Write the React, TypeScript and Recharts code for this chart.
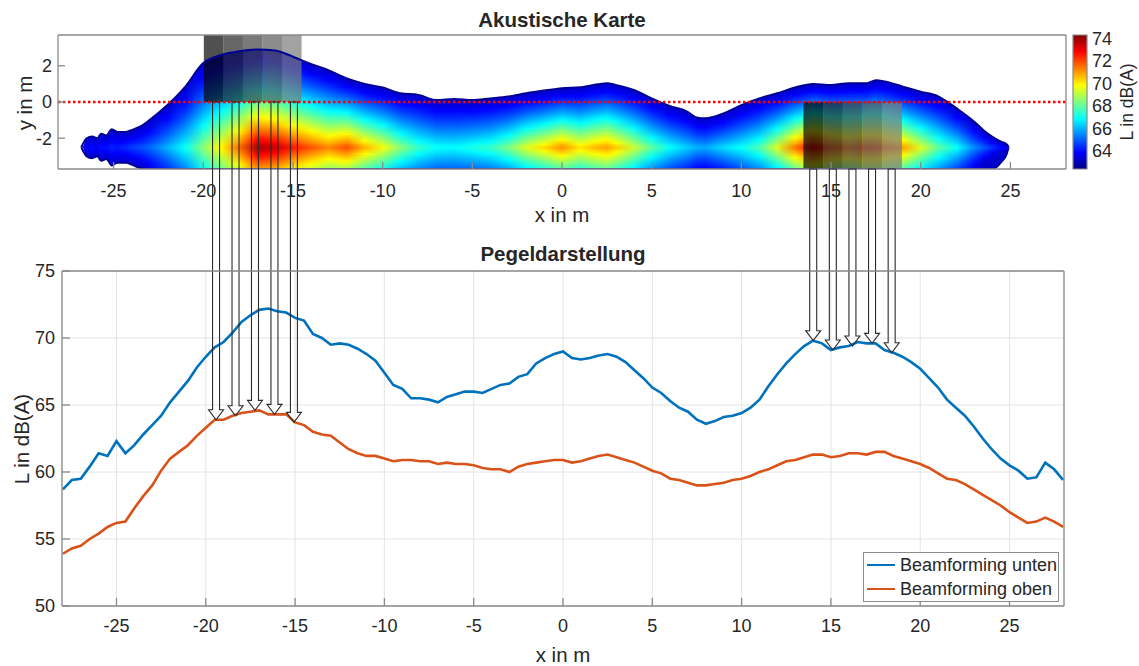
import React from 'react';
import {
  ComposedChart, Line, Area, XAxis, YAxis, CartesianGrid, ReferenceArea, ReferenceLine, Legend,
} from 'recharts';

const FONT = '"Liberation Sans", Arial, Helvetica, sans-serif';
const TEXT = '#262626';
const FRAME = '#8a8a8a';
const BLUE = '#0072BD';
const ORANGE = '#D95319';

// Pegeldarstellung: level along the road, x in m
const levelX = [
  -28, -27.5, -27, -26.5, -26, -25.5, -25, -24.5, -24, -23.5,
  -23, -22.5, -22, -21.5, -21, -20.5, -20, -19.5, -19, -18.5,
  -18, -17.5, -17, -16.5, -16, -15.5, -15, -14.5, -14, -13.5,
  -13, -12.5, -12, -11.5, -11, -10.5, -10, -9.5, -9, -8.5,
  -8, -7.5, -7, -6.5, -6, -5.5, -5, -4.5, -4, -3.5,
  -3, -2.5, -2, -1.5, -1, -0.5, 0, 0.5, 1, 1.5,
  2, 2.5, 3, 3.5, 4, 4.5, 5, 5.5, 6, 6.5,
  7, 7.5, 8, 8.5, 9, 9.5, 10, 10.5, 11, 11.5,
  12, 12.5, 13, 13.5, 14, 14.5, 15, 15.5, 16, 16.5,
  17, 17.5, 18, 18.5, 19, 19.5, 20, 20.5, 21, 21.5,
  22, 22.5, 23, 23.5, 24, 24.5, 25, 25.5, 26, 26.5,
  27, 27.5, 28,
];
const levelUnten = [
  58.7, 59.4, 59.5, 60.4, 61.4, 61.2, 62.3, 61.4, 62.0, 62.8,
  63.5, 64.2, 65.2, 66.0, 66.8, 67.8, 68.6, 69.3, 69.7, 70.4,
  71.2, 71.7, 72.1, 72.2, 72.0, 71.9, 71.5, 71.3, 70.3, 70.0,
  69.5, 69.6, 69.5, 69.2, 68.8, 68.3, 67.4, 66.5, 66.2, 65.5,
  65.5, 65.4, 65.2, 65.6, 65.8, 66.0, 66.0, 65.9, 66.2, 66.5,
  66.6, 67.1, 67.3, 68.1, 68.5, 68.8, 69.0, 68.5, 68.4, 68.5,
  68.7, 68.8, 68.6, 68.2, 67.6, 67.0, 66.3, 65.9, 65.3, 64.8,
  64.5, 63.9, 63.6, 63.8, 64.1, 64.2, 64.4, 64.8, 65.4, 66.4,
  67.3, 68.1, 68.8, 69.4, 69.8, 69.6, 69.1, 69.3, 69.4, 69.7,
  69.6, 69.6, 69.1, 68.9, 68.6, 68.2, 67.7, 67.0, 66.3, 65.4,
  64.8, 64.2, 63.4, 62.5, 61.7, 61.0, 60.5, 60.1, 59.5, 59.6,
  60.7, 60.2, 59.4,
];
const levelOben = [
  53.9, 54.3, 54.5, 55.0, 55.4, 55.9, 56.2, 56.3, 57.3, 58.2,
  59.0, 60.1, 61.0, 61.5, 62.0, 62.7, 63.3, 63.9, 63.9, 64.2,
  64.4, 64.5, 64.6, 64.3, 64.3, 64.3, 63.7, 63.5, 63.0, 62.8,
  62.7, 62.2, 61.7, 61.4, 61.2, 61.2, 61.0, 60.8, 60.9, 60.9,
  60.8, 60.8, 60.6, 60.7, 60.6, 60.6, 60.5, 60.3, 60.2, 60.2,
  60.0, 60.4, 60.6, 60.7, 60.8, 60.9, 60.9, 60.7, 60.8, 61.0,
  61.2, 61.3, 61.1, 60.9, 60.7, 60.4, 60.1, 59.9, 59.5, 59.4,
  59.2, 59.0, 59.0, 59.1, 59.2, 59.4, 59.5, 59.7, 60.0, 60.2,
  60.5, 60.8, 60.9, 61.1, 61.3, 61.3, 61.1, 61.2, 61.4, 61.4,
  61.3, 61.5, 61.5, 61.2, 61.0, 60.8, 60.6, 60.3, 59.9, 59.5,
  59.4, 59.1, 58.7, 58.3, 57.9, 57.5, 57.0, 56.6, 56.2, 56.3,
  56.6, 56.3, 55.9,
];
const xTicks = [-25, -20, -15, -10, -5, 0, 5, 10, 15, 20, 25];
const levelTicks = [50, 55, 60, 65, 70, 75];

// Akustische Karte: level along y = -2.5 m and the outline of the coloured area
const mapX = [
  -28.1, -27, -26.8, -26.5, -26.2, -25.9, -25.7, -25.4, -25.1, -24.8,
  -24.3, -24, -23.5, -23, -22, -21, -20, -19.5, -19, -18,
  -17, -16, -15, -14, -13, -12, -11, -10, -9, -8,
  -7, -6, -5, -4, -3, -2, -1, 0, 1, 2,
  2.5, 3, 4, 5, 6, 7, 7.5, 8, 9, 10,
  11, 12, 13, 14, 15, 16, 17, 17.5, 18, 19,
  20, 21, 22, 23, 23.5, 24, 24.5, 24.8, 24.9, 26,
  28.1,
];
const mapLevel = [
  62.4, 62.4, 63.4, 63.8, 64.0, 63.8, 64.1, 64.0, 64.3, 64.2,
  64.4, 64.6, 64.8, 65.1, 66.0, 67.0, 68.5, 69.3, 70.0, 71.6,
  73.8, 73.5, 72.6, 71.9, 71.3, 72.0, 70.8, 69.8, 68.5, 67.5,
  67.0, 66.9, 67.2, 67.5, 68.3, 69.5, 70.3, 71.2, 70.2, 70.8,
  71.0, 70.5, 69.3, 68.0, 67.0, 66.3, 66.0, 65.9, 66.5, 67.0,
  67.8, 69.5, 71.5, 73.0, 72.0, 71.5, 72.0, 71.8, 71.5, 71.0,
  69.5, 68.0, 67.0, 65.5, 65.0, 64.5, 64.0, 63.8, 63.4, 62.4,
  62.4,
];
const mapTop = [
  -2.6, -2.6, -2.6, -2.0, -1.9, -2.0, -1.75, -1.85, -1.5, -1.65,
  -1.65, -1.55, -1.35, -1.0, -0.17, 0.85, 2.15, 2.43, 2.6, 2.8,
  2.9, 2.85, 2.5, 2.1, 1.75, 1.3, 1.0, 0.8, 0.48, 0.39,
  0.11, 0.17, 0.11, 0.2, 0.3, 0.48, 0.63, 0.76, 0.81, 0.98,
  1.04, 0.94, 0.67, 0.2, -0.22, -0.54, -0.85, -0.9, -0.63, -0.17,
  0.2, 0.48, 0.8, 1.0, 0.94, 1.04, 1.04, 1.2, 1.13, 0.85,
  0.57, 0.3, -0.35, -1.1, -1.56, -1.93, -2.2, -2.35, -2.65, -2.6,
  -2.6,
];
const mapBottom = [
  -2.4, -2.4, -2.4, -3.0, -3.1, -3.0, -3.25, -3.15, -3.5, -3.35,
  -3.35, -3.45, -3.65, -3.7, -3.7, -3.7, -3.7, -3.7, -3.7, -3.7,
  -3.7, -3.7, -3.7, -3.7, -3.7, -3.7, -3.7, -3.7, -3.7, -3.7,
  -3.7, -3.7, -3.7, -3.7, -3.7, -3.7, -3.7, -3.7, -3.7, -3.7,
  -3.7, -3.7, -3.7, -3.7, -3.7, -3.7, -3.7, -3.7, -3.7, -3.7,
  -3.7, -3.7, -3.7, -3.7, -3.7, -3.7, -3.7, -3.7, -3.7, -3.7,
  -3.7, -3.7, -3.7, -3.7, -3.7, -3.7, -3.3, -2.85, -2.45, -2.4,
  -2.4,
];
const mapTicksY = [-2, 0, 2];
const colorbarTicks = [64, 66, 68, 70, 72, 74];

// grey bands marking the sampled sections
const bandLeft = [-19.97, -14.52];
const bandRight = [13.46, 18.95];
const stripShades = ['#050505', '#272727', '#424242', '#5b5b5b', '#7b7b7b'];

// layout
const W = 1139;
const H = 666;
const MAP_H = 230;
const TOP = { left: 58, right: 1066, top: 35, bottom: 169 };
const BOT = { left: 62, right: 1064, top: 271, bottom: 606 };
const MAP_XD: [number, number] = [-28.1, 28.1];
const MAP_YD: [number, number] = [-3.7, 3.7];
const LEVEL_XD: [number, number] = [-28.05, 28.05];
const LEVEL_YD: [number, number] = [50, 75];
const CB: [number, number] = [62.4, 74.3];
const MAP_CENTRE_Y = -2.5;
const MAP_EDGE_LEVEL = 63.3; // level at the outline of the coloured area
const EDGE_COLOR = 'rgb(0,0,150)';

const tickStyle = { fill: TEXT, fontSize: 18, fontFamily: FONT };

const jet = (v: number) => {
  const t = Math.max(0, Math.min(1, (v - CB[0]) / (CB[1] - CB[0])));
  const c = (a: number) => Math.round(255 * Math.max(0, Math.min(1, a)));
  const r = c(Math.min(4 * t - 1.5, -4 * t + 4.5));
  const g = c(Math.min(4 * t - 0.5, -4 * t + 3.5));
  const b = c(Math.min(4 * t + 0.5, -4 * t + 2.5));
  return `rgb(${r},${g},${b})`;
};

// level at height y for map column i (falls off from the source line to the outline)
const fieldAt = (i: number, y: number) => {
  const ext = Math.max(mapTop[i] - MAP_CENTRE_Y, 0.05);
  const d = Math.min(Math.abs(y - MAP_CENTRE_Y) / ext, 1);
  const peak = Math.max(mapLevel[i], MAP_EDGE_LEVEL);
  return MAP_EDGE_LEVEL + (peak - MAP_EDGE_LEVEL) * Math.pow(1 - d, 1.25);
};

const ROW_STEP = 0.1;
const rowYs: number[] = [];
for (let y = MAP_YD[0] + ROW_STEP / 2; y < 3.05; y += ROW_STEP) rowYs.push(y);

const strips = (band: number[]) => {
  const w = (band[1] - band[0]) / stripShades.length;
  return stripShades.map((_, k) => [band[0] + k * w, band[0] + (k + 1) * w]);
};

// convert a map height into the level axis so the arrows can run from one panel into the other
const mapPxPerM = (TOP.bottom - TOP.top) / (MAP_YD[1] - MAP_YD[0]);
const dbPerPx = (LEVEL_YD[1] - LEVEL_YD[0]) / (BOT.bottom - BOT.top);
const mapYToLevel = (ym: number) => {
  const py = TOP.top + (MAP_YD[1] - ym) * mapPxPerM;
  return LEVEL_YD[1] + (BOT.top - py) * dbPerPx;
};
const nearest = (arr: number[], x: number) => {
  let best = 0;
  levelX.forEach((v, i) => { if (Math.abs(v - x) < Math.abs(levelX[best] - x)) best = i; });
  return arr[best];
};
const arrows = [
  ...strips(bandLeft).map(([a, b]) => {
    const x = (a + b) / 2;
    return { x, from: mapYToLevel(0), to: nearest(levelOben, x) };
  }),
  ...strips(bandRight).map(([a, b]) => {
    const x = (a + b) / 2;
    return { x, from: mapYToLevel(MAP_YD[0]), to: nearest(levelUnten, x) };
  }),
];

const ArrowShape = (props: any) => {
  const { x1, y1, x2, y2 } = props;
  const hw = 3.5;
  const headW = 7.5;
  const yh = y2 - 10;
  const d = `M${x1 - hw},${y1} V${yh} H${x1 - headW} L${x2},${y2} L${x1 + headW},${yh} H${x1 + hw} V${y1} Z`;
  return <path d={d} fill="none" stroke="#2b2b2b" strokeWidth={1.1} />;
};

const legendItems = [
  { name: 'Beamforming unten', color: BLUE },
  { name: 'Beamforming oben', color: ORANGE },
];

function LegendBox() {
  return (
    <div style={{
      boxSizing: 'border-box', width: 196, height: 50, border: '1px solid #8c8c8c', background: '#fff',
      fontFamily: FONT, fontSize: 18, color: TEXT,
    }}>
      {legendItems.map((it) => (
        <div key={it.name} style={{ display: 'flex', alignItems: 'center', height: 24, whiteSpace: 'nowrap' }}>
          <span style={{ display: 'inline-block', width: 28, borderTop: `2.5px solid ${it.color}`, marginLeft: 3, marginRight: 5 }} />
          <span>{it.name}</span>
        </div>
      ))}
    </div>
  );
}

const labels = [
  { text: 'Akustische Karte', x: 562, y: 20, size: 20.5, bold: true },
  { text: 'x in m', x: 562, y: 215, size: 20.5 },
  { text: 'y in m', x: 25, y: 103, size: 20.5, rotate: true },
  { text: 'L in dB(A)', x: 1128, y: 102, size: 17.5, rotate: true },
  { text: 'Pegeldarstellung', x: 563, y: 254, size: 20.5, bold: true },
  { text: 'x in m', x: 563, y: 655, size: 20.5 },
  { text: 'L in dB(A)', x: 22, y: 439, size: 20.5, rotate: true },
];

// axes are 1px thick boxes (Recharts skips axes of zero size), margins are reduced by that pixel
const AX = 1;

function MapChart() {
  const last = mapX.length - 1;
  const isClosed = (i: number) => i < 0 || i > last || mapTop[i] <= mapBottom[i];
  const mapData = mapX.map((x, i) => {
    const open = !isClosed(i);
    const touches = open || !isClosed(i - 1) || !isClosed(i + 1);
    return {
      x,
      above: [mapTop[i], MAP_YD[1]],
      below: [MAP_YD[0], mapBottom[i]],
      edgeTop: touches ? (open ? mapTop[i] : MAP_CENTRE_Y) : null,
      edgeBottom: touches ? (open ? mapBottom[i] : MAP_CENTRE_Y) : null,
    };
  });
  return (
    <ComposedChart
      width={W}
      height={MAP_H}
      data={mapData}
      margin={{ top: TOP.top - AX, left: TOP.left - AX, right: W - TOP.right - AX, bottom: MAP_H - TOP.bottom - AX }}
    >
      <defs>
        {rowYs.map((y, r) => (
          <linearGradient key={r} id={`mapRow${r}`} x1="0" y1="0" x2="1" y2="0">
            {mapX.map((x, i) => (
              <stop key={i} offset={(x - MAP_XD[0]) / (MAP_XD[1] - MAP_XD[0])} stopColor={jet(fieldAt(i, y))} />
            ))}
          </linearGradient>
        ))}
      </defs>
      {rowYs.map((y, r) => (
        <ReferenceArea
          key={r}
          x1={MAP_XD[0]}
          x2={MAP_XD[1]}
          y1={y - 0.07}
          y2={y + 0.07}
          fill={`url(#mapRow${r})`}
          fillOpacity={1}
          stroke="none"
          ifOverflow="hidden"
        />
      ))}
      <Area dataKey="above" type="monotoneX" fill="#fff" fillOpacity={1} stroke="none" dot={false} activeDot={false} isAnimationActive={false} />
      <Area dataKey="below" type="monotoneX" fill="#fff" fillOpacity={1} stroke="none" dot={false} activeDot={false} isAnimationActive={false} />
      <Line dataKey="edgeTop" type="monotoneX" stroke={EDGE_COLOR} strokeWidth={2} dot={false} activeDot={false} isAnimationActive={false} />
      <Line dataKey="edgeBottom" type="monotoneX" stroke={EDGE_COLOR} strokeWidth={2} dot={false} activeDot={false} isAnimationActive={false} />
      {strips(bandLeft).map(([a, b], k) => (
        <ReferenceArea key={`l${k}`} x1={a} x2={b} y1={0} y2={MAP_YD[1]} fill={stripShades[k]} fillOpacity={0.7} stroke="none" ifOverflow="visible" />
      ))}
      {strips(bandRight).map(([a, b], k) => (
        <ReferenceArea key={`r${k}`} x1={a} x2={b} y1={MAP_YD[0]} y2={0} fill={stripShades[k]} fillOpacity={0.7} stroke="none" ifOverflow="visible" />
      ))}
      <ReferenceLine y={0} stroke="#ff0000" strokeWidth={2.6} strokeDasharray="2.5 2.5" />
      <XAxis dataKey="x" type="number" domain={MAP_XD} ticks={xTicks} interval={0} allowDataOverflow height={AX}
        tickSize={-7} tickMargin={22} tick={tickStyle} stroke={FRAME} strokeWidth={1.3} />
      <XAxis xAxisId="top" orientation="top" type="number" domain={MAP_XD} ticks={xTicks} interval={0} allowDataOverflow height={AX}
        tickSize={-7} tick={false} stroke={FRAME} strokeWidth={1.3} />
      <YAxis type="number" domain={MAP_YD} ticks={mapTicksY} interval={0} allowDataOverflow width={AX}
        tickSize={-7} tickMargin={13} tick={tickStyle} stroke={FRAME} strokeWidth={1.3} />
      <YAxis yAxisId="right" orientation="right" type="number" domain={MAP_YD} ticks={mapTicksY} interval={0} allowDataOverflow width={AX}
        tickSize={-7} tick={false} stroke={FRAME} strokeWidth={1.3} />
    </ComposedChart>
  );
}

function ColorBar() {
  const cbStops = [0, 0.125, 0.375, 0.625, 0.875, 1];
  return (
    <ComposedChart
      width={99}
      height={MAP_H}
      data={[{ x: 0 }, { x: 1 }]}
      margin={{ top: TOP.top, left: 33, right: 52 - AX, bottom: MAP_H - TOP.bottom }}
    >
      <defs>
        <linearGradient id="jetV" x1="0" y1="1" x2="0" y2="0">
          {cbStops.map((t) => (
            <stop key={t} offset={t} stopColor={jet(CB[0] + t * (CB[1] - CB[0]))} />
          ))}
        </linearGradient>
      </defs>
      <XAxis dataKey="x" type="number" domain={[0, 1]} hide />
      <ReferenceArea x1={0} x2={1} y1={CB[0]} y2={CB[1]} fill="url(#jetV)" fillOpacity={1} stroke={FRAME} strokeWidth={1.2} ifOverflow="visible" />
      <YAxis orientation="right" type="number" domain={CB} ticks={colorbarTicks} interval={0} allowDataOverflow width={AX}
        tickSize={0} tickMargin={5} axisLine={false} tickLine={false} tick={tickStyle} />
    </ComposedChart>
  );
}

function LevelChart() {
  const data = levelX.map((x, i) => ({ x, unten: levelUnten[i], oben: levelOben[i] }));
  return (
    <ComposedChart
      width={W}
      height={H}
      data={data}
      margin={{ top: BOT.top - AX, left: BOT.left - AX, right: W - BOT.right - AX, bottom: H - BOT.bottom - AX }}
    >
      <CartesianGrid stroke="#e4e4e4" />
      <Line dataKey="unten" name="Beamforming unten" type="linear" stroke={BLUE} strokeWidth={2.6} dot={false} isAnimationActive={false} />
      <Line dataKey="oben" name="Beamforming oben" type="linear" stroke={ORANGE} strokeWidth={2.6} dot={false} isAnimationActive={false} />
      {arrows.map((a, k) => (
        <ReferenceLine
          key={k}
          segment={[{ x: a.x, y: a.from }, { x: a.x, y: a.to }]}
          ifOverflow="visible"
          shape={ArrowShape}
        />
      ))}
      <XAxis dataKey="x" type="number" domain={LEVEL_XD} ticks={xTicks} interval={0} allowDataOverflow height={AX}
        tickSize={-8} tickMargin={21} tick={tickStyle} stroke={FRAME} strokeWidth={1.3} />
      <XAxis xAxisId="top" orientation="top" type="number" domain={LEVEL_XD} ticks={xTicks} interval={0} allowDataOverflow height={AX}
        tickSize={-8} tick={false} stroke={FRAME} strokeWidth={1.3} />
      <YAxis type="number" domain={LEVEL_YD} ticks={levelTicks} interval={0} allowDataOverflow width={AX}
        tickSize={-8} tickMargin={15} tick={tickStyle} stroke={FRAME} strokeWidth={1.3} />
      <YAxis yAxisId="right" orientation="right" type="number" domain={LEVEL_YD} ticks={levelTicks} interval={0} allowDataOverflow width={AX}
        tickSize={-8} tick={false} stroke={FRAME} strokeWidth={1.3} />
      <Legend
        layout="vertical"
        align="center"
        verticalAlign="middle"
        content={<LegendBox />}
        wrapperStyle={{ left: 863, top: 552, width: 196, height: 50 }}
      />
    </ComposedChart>
  );
}

export default function App() {
  return (
    <div style={{ position: 'absolute', left: 0, top: 0, width: W, height: H, background: '#fff', overflow: 'hidden' }}>
      <div style={{ position: 'absolute', left: 0, top: 0 }}>
        <MapChart />
      </div>
      <div style={{ position: 'absolute', left: 1040, top: 0 }}>
        <ColorBar />
      </div>
      <div style={{ position: 'absolute', left: 0, top: 0 }}>
        <LevelChart />
      </div>
      {labels.map((l, k) => (
        <div
          key={k}
          style={{
            position: 'absolute', left: l.x, top: l.y, lineHeight: 1, whiteSpace: 'nowrap',
            transform: `translate(-50%, -50%)${l.rotate ? ' rotate(-90deg)' : ''}`,
            fontFamily: FONT, fontSize: l.size, fontWeight: l.bold ? 'bold' : 'normal', color: TEXT,
          }}
        >
          {l.text}
        </div>
      ))}
    </div>
  );
}
